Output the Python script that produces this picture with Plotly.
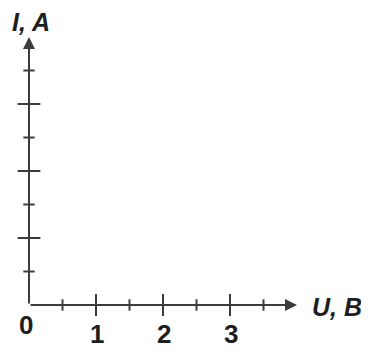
import plotly.graph_objects as go

# axis ticks (in axis units, 1 unit = one labelled step)
x_major = [1, 2, 3]
x_minor = [0.5, 1.5, 2.5, 3.5]
y_major = [1, 2, 3]
y_minor = [0.5, 1.5, 2.5, 3.5]
x_labels = ["1", "2", "3"]
origin_label = "0"
x_title = "U, B"
y_title = "I, A"
axis_end = 4

line_col = "#3c3c3c"
text_col = "#1e1e1e"
font_fam = "Liberation Sans, Arial, sans-serif"


def tick_segments(vals, half, vertical):
    a, b = [], []
    for v in vals:
        if vertical:
            a += [v, v, None]
            b += [-half, half, None]
        else:
            a += [-half, half, None]
            b += [v, v, None]
    return a, b


fig = go.Figure()

for vals, half in [(x_major, 0.165), (x_minor, 0.085)]:
    xs, ys = tick_segments(vals, half, True)
    fig.add_trace(go.Scatter(x=xs, y=ys, mode="lines",
                             line=dict(color=line_col, width=2), hoverinfo="skip"))

for vals, half in [(y_major, 0.17), (y_minor, 0.085)]:
    xs, ys = tick_segments(vals, half, False)
    fig.add_trace(go.Scatter(x=xs, y=ys, mode="lines",
                             line=dict(color=line_col, width=2), hoverinfo="skip"))

# axes with arrow heads
for tip in [(axis_end, 0), (0, axis_end)]:
    fig.add_annotation(x=tip[0], y=tip[1], ax=0, ay=0, xref="x", yref="y",
                       axref="x", ayref="y", text="", showarrow=True,
                       arrowhead=2, arrowsize=1.2, arrowwidth=2, arrowcolor=line_col)

num_font = dict(family=font_fam, size=26, color=text_col, weight="bold")
title_font = dict(family=font_fam, size=25, color=text_col, weight="bold", style="italic")

for v, t in zip(x_major, x_labels):
    fig.add_annotation(x=v + 0.02, y=-0.43, text=t, showarrow=False, font=num_font)
fig.add_annotation(x=-0.05, y=-0.30, text=origin_label, showarrow=False, font=num_font)
fig.add_annotation(x=5.0, y=-0.03, xanchor="right", text=x_title, showarrow=False,
                   font=title_font)
fig.add_annotation(x=0.03, y=4.23, text=y_title, showarrow=False, font=title_font)

# page body has an 8px margin, so the figure is a bit smaller than the window
fig.update_layout(
    width=361, height=341,
    margin=dict(l=0, r=0, t=0, b=0),
    paper_bgcolor="white", plot_bgcolor="white",
    showlegend=False,
    xaxis=dict(range=[-21 / 67, 340 / 67], visible=False, fixedrange=True),
    yaxis=dict(range=[-44 / 67, 297 / 67], visible=False, fixedrange=True),
)

fig.write_html("out.html")
